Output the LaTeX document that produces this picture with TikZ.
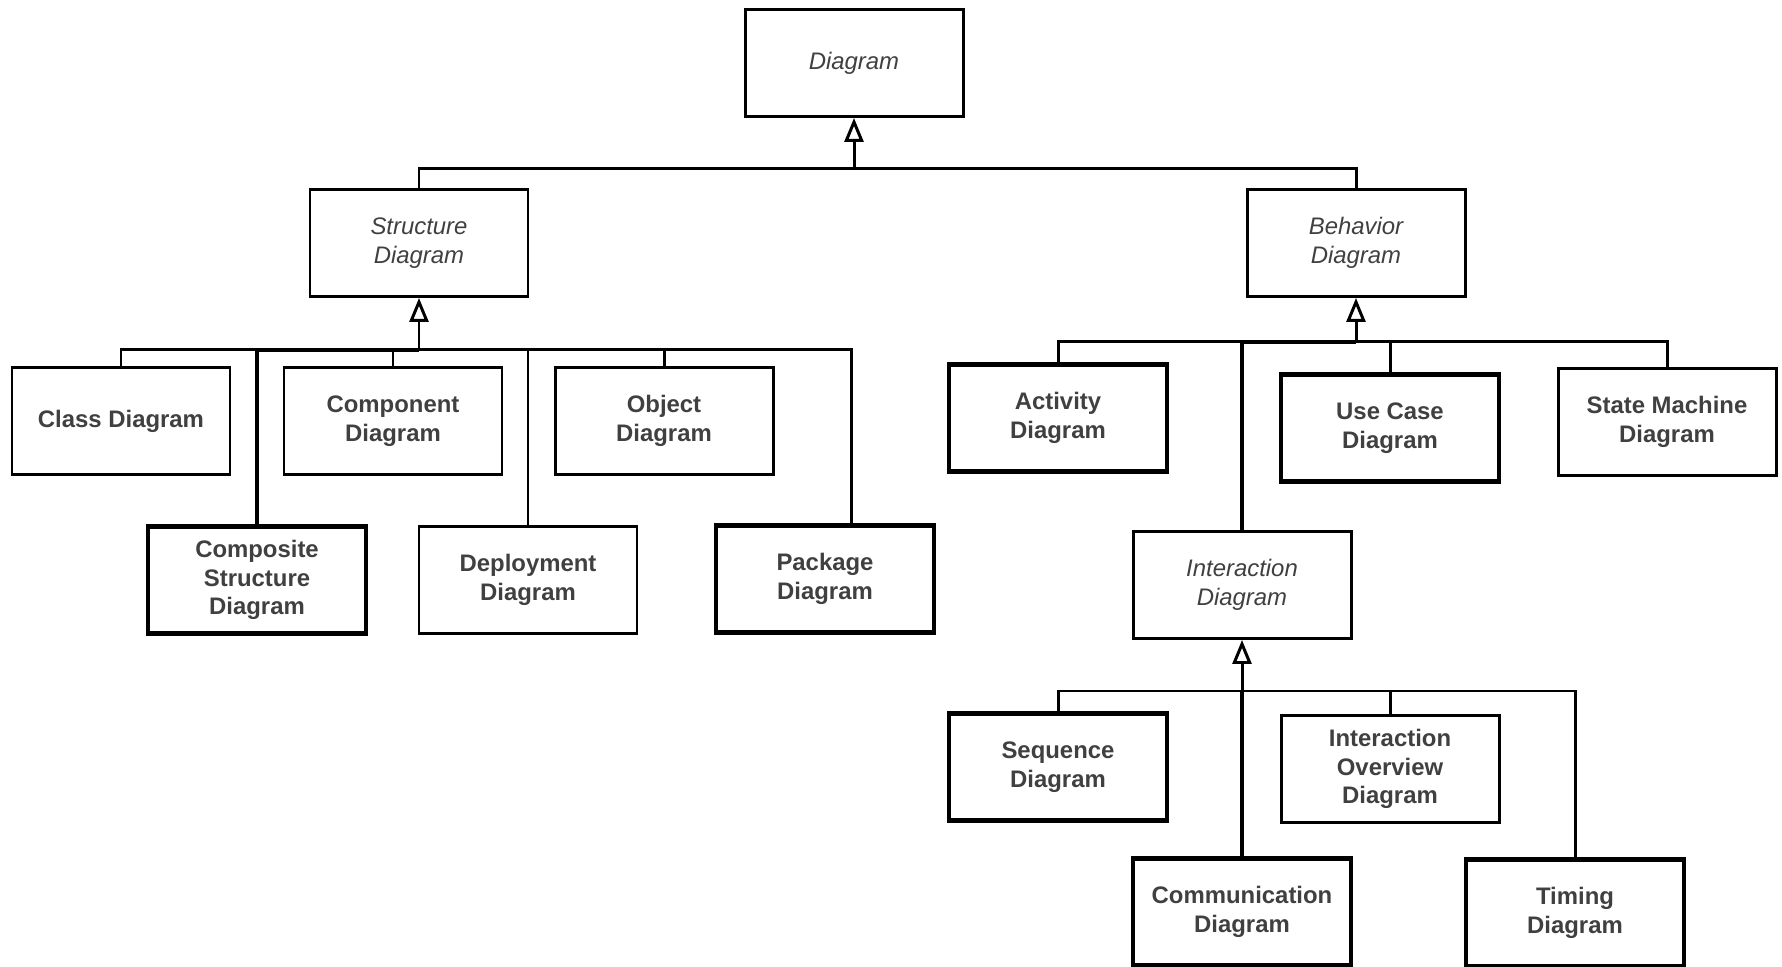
\documentclass[tikz,border=0pt]{standalone}
\usepackage{fontspec}
\setmainfont{Liberation Sans}
\usetikzlibrary{arrows.meta}

\newcommand{\boxfont}{\fontsize{6.8}{8.2}\selectfont}
\tikzset{umlbox/.style={draw,line width=0.85pt,minimum width=21.8mm,minimum height=10.7mm,align=center,inner sep=1pt,text=black!75,font=\boxfont\bfseries},
  heavybox/.style={umlbox,line width=1.4pt},
  abstractbox/.style={umlbox,font=\boxfont\itshape},
  link/.style={line width=0.85pt},
  heavylink/.style={line width=1.3pt},
  gen/.style={link,-{Triangle[open,length=2.4mm,width=1.9mm]}}}

\begin{document}
\begin{tikzpicture}[x=0.1mm,y=-0.1mm]
    \useasboundingbox (0,0) rectangle (1782,967);
    % draw the abstract diagrams
    \node[abstractbox] (diag) at (854,63) {Diagram};
    \node[abstractbox] (struct) at (419,243) {Structure\\Diagram};
    \node[abstractbox] (behav) at (1356,243) {Behavior\\Diagram};
    \node[abstractbox] (inter) at (1242,585) {Interaction\\Diagram};
    % draw the structure diagrams
    \node[umlbox] (class) at (121,421) {Class Diagram};
    \node[umlbox] (comp) at (393,421) {Component\\Diagram};
    \node[umlbox] (obj) at (664,421) {Object\\Diagram};
    \node[heavybox] (compo) at (257,580) {Composite\\Structure\\Diagram};
    \node[umlbox] (deploy) at (528,580) {Deployment\\Diagram};
    \node[heavybox] (pkg) at (825,579) {Package\\Diagram};
    % draw the behavior diagrams
    \node[heavybox] (activ) at (1058,418) {Activity\\Diagram};
    \node[heavybox] (usecase) at (1390,428) {Use Case\\Diagram};
    \node[umlbox] (statem) at (1667,422) {State Machine\\Diagram};
    \node[heavybox] (seq) at (1058,767) {Sequence\\Diagram};
    \node[umlbox] (overview) at (1390,769) {Interaction\\Overview\\Diagram};
    \node[heavybox] (commu) at (1242,912) {Communication\\Diagram};
    \node[heavybox] (timing) at (1575,913) {Timing\\Diagram};
    % draw the generalization buses
    \coordinate (topbus) at (854,169);
    \coordinate (sbus) at (419,350);
    \coordinate (bbus) at (1356,342);
    \coordinate (ibus) at (1242,691);
    \draw[gen] (topbus) -- (diag);
    \draw[gen] (sbus) -- (struct);
    \draw[gen] (bbus) -- (behav);
    \draw[gen] (ibus) -- (inter);
    % connect the children to their bus
    \foreach \n in {struct,behav}
    \draw[link] (\n.north) |- (topbus);
    \foreach \n in {class,comp,obj,deploy}
    \draw[link] (\n.north) |- (sbus);
    \draw[heavylink] (compo.north) |- (sbus);
    \draw[link] ([xshift=2.6mm]pkg.north) |- (sbus);
    \foreach \n in {activ,usecase,statem}
    \draw[link] (\n.north) |- (bbus);
    \draw[heavylink] (inter.north) |- (bbus);
    \foreach \n in {seq,overview,timing}
    \draw[link] (\n.north) |- (ibus);
    \draw[heavylink] (commu.north) -- (ibus);
\end{tikzpicture}
\end{document}
